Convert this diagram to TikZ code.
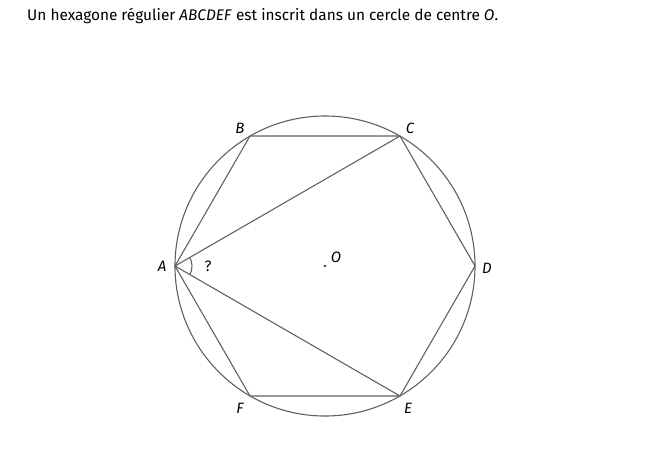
\documentclass[tikz,border=0pt]{standalone}
\usepackage{fontspec}
\setmainfont{Fira Sans}
\begin{document}
\begin{tikzpicture}[x=1pt,y=-1pt,
  geo/.style={draw=black!62,line width=1.1pt},
  lbl/.style={font=\itshape\fontsize{15}{17}\selectfont,inner sep=0pt}]
\useasboundingbox (0,0) rectangle (655,461);
\node[anchor=west,inner sep=0pt,font=\fontsize{15.4}{18}\selectfont] (title) at (27,16) {Un hexagone régulier \textit{ABCDEF} est inscrit dans un cercle de centre \textit{O}.};
\coordinate (O) at (325,266);
\coordinate (A) at (175,266);
\coordinate (B) at (250,136);
\coordinate (C) at (400,136);
\coordinate (D) at (475,266);
\coordinate (E) at (400,396);
\coordinate (F) at (250,396);
\draw[geo] (O) circle (150);
\draw[geo] (A) -- (B) -- (C) -- (D) -- (E) -- (F) -- cycle;
\draw[geo] (A) -- (C);
\draw[geo] (A) -- (E);
\draw[geo] ([shift={(-30:17)}]A) arc[start angle=-30,end angle=30,radius=17];
\fill[black!75] (O) circle (1.4);
\node[lbl] (lA) at (162,266) {A};
\node[lbl] (lB) at (240,128) {B};
\node[lbl] (lC) at (410,128) {C};
\node[lbl] (lD) at (487,268) {D};
\node[lbl] (lE) at (408,408) {E};
\node[lbl] (lF) at (240,408) {F};
\node[lbl] (lO) at (336,257) {O};
\node[inner sep=0pt,font=\fontsize{15}{17}\selectfont] (q) at (208,266) {?};
\end{tikzpicture}
\end{document}
